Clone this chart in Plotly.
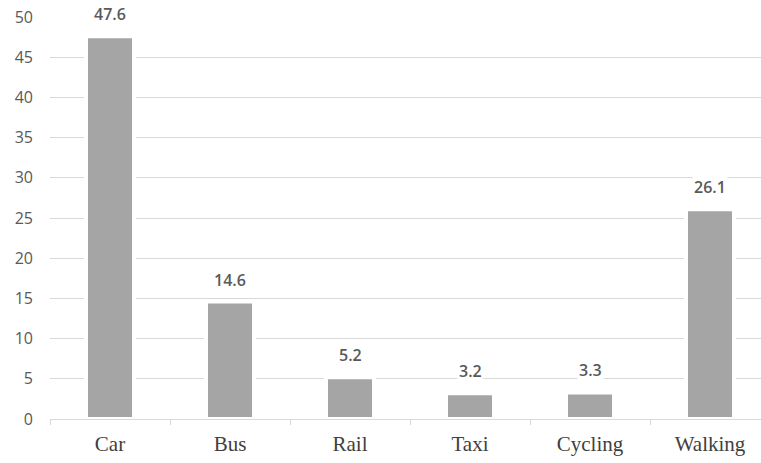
import plotly.graph_objects as go

modes = ["Car", "Bus", "Rail", "Taxi", "Cycling", "Walking"]
shares = [47.6, 14.6, 5.2, 3.2, 3.3, 26.1]
y_ticks = [0, 5, 10, 15, 20, 25, 30, 35, 40, 45, 50]

fig = go.Figure(
    go.Bar(
        x=modes,
        y=shares,
        width=0.40,
        marker=dict(color="#a5a5a5", line=dict(color="white", width=4)),
        hoverinfo="x+y",
    )
)

# value labels with a white box so gridlines break behind them
for m, v in zip(modes, shares):
    fig.add_annotation(
        x=m, y=v, text=f"{v}", showarrow=False,
        yanchor="bottom", yshift=9,
        bgcolor="white", borderpad=1,
        font=dict(family="Open Sans", size=16, color="#595959", weight=600),
    )

fig.update_layout(
    width=761, height=463,
    margin=dict(l=50, r=0, t=17, b=44),
    paper_bgcolor="white", plot_bgcolor="white",
    showlegend=False,
    bargap=0.6,
)
fig.update_xaxes(
    range=[-0.5, 5.425],
    tickson="boundaries",
    ticks="outside", ticklen=5, tickcolor="#d9d9d9",
    showgrid=False,
    showline=True, linecolor="#d9d9d9", linewidth=1,
    tickfont=dict(family="Liberation Serif", size=21, color="#404040"),
    ticklabelstandoff=6,
)
fig.update_yaxes(
    range=[0, 50],
    tickvals=y_ticks,
    showgrid=True, gridcolor="#d9d9d9", gridwidth=1,
    zeroline=False,
    tickfont=dict(family="Open Sans", size=16, color="#595959"),
    ticklabelstandoff=16,
)

fig.write_html("out.html")
